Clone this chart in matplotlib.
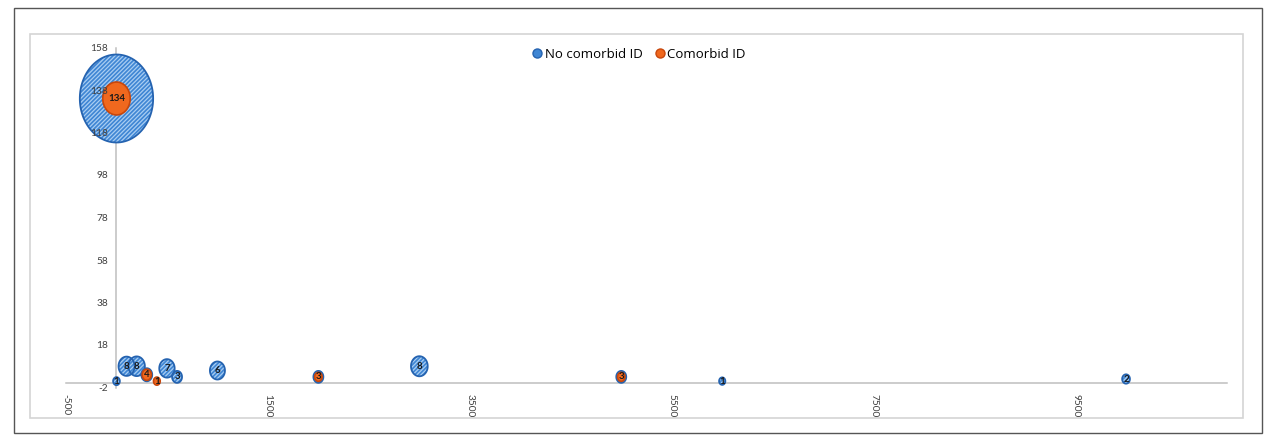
import numpy as np
import matplotlib
matplotlib.use("Agg")
import matplotlib.pyplot as plt
from matplotlib.path import Path
from matplotlib.lines import Line2D
from matplotlib.patches import Rectangle

# ---------------- data ----------------
series_names = ["No comorbid ID", "Comorbid ID"]

no_comorbid_x = [0, 0, 100, 200, 300, 500, 600, 1000, 2000, 3000, 5000, 6000, 10000]
no_comorbid_y = [134, 1, 8, 8, 4, 7, 3, 6, 3, 8, 3, 1, 2]
no_comorbid_size = [250, 2.1, 12, 12.5, 5.5, 11, 4.6, 10.5, 4.6, 13, 4.6, 1.8, 2.8]

comorbid_x = [0, 300, 400, 2000, 5000]
comorbid_y = [134, 4, 1, 3, 3]
comorbid_size = [35, 4.0, 2.1, 2.6, 2.6]

x_ticks = [-500, 1500, 3500, 5500, 7500, 9500]
y_ticks = [-2, 18, 38, 58, 78, 98, 118, 138, 158]

# ---------------- style ----------------
W, H = 1275, 442
fig = plt.figure(figsize=(W / 100, H / 100), dpi=100)
fig.patch.set_facecolor("white")

# chart borders
fig.add_artist(Rectangle((14 / W, 1 - 433 / H), (1262 - 14) / W, (433 - 8) / H,
                         transform=fig.transFigure, fill=False, ec="#555555", lw=1.0))
fig.add_artist(Rectangle((30 / W, 1 - 418 / H), (1243 - 30) / W, (418 - 34) / H,
                         transform=fig.transFigure, fill=False, ec="#d4d4d4", lw=1.2))

ax = fig.add_axes([66 / W, 1 - 387.5 / H, (1227 - 66) / W, (387.5 - 47.5) / H])
ax.set_xlim(-500, 11000)
ax.set_ylim(-2, 158)
ax.patch.set_alpha(0)

for s in ["top", "right"]:
    ax.spines[s].set_visible(False)
ax.spines["left"].set_position(("data", 0))
ax.spines["bottom"].set_position(("data", 0))
for s in ["left", "bottom"]:
    ax.spines[s].set_color("#bfbfbf")
    ax.spines[s].set_linewidth(1.1)
    ax.spines[s].set_zorder(1)

ax.set_xticks(x_ticks)
ax.set_yticks(y_ticks)
ax.set_xticklabels([str(v) for v in x_ticks], rotation=-90, fontsize=7.3,
                   color="#404040", family="Lato")
ax.set_yticklabels([str(v) for v in y_ticks], fontsize=7.3, color="#404040", family="Lato")
ax.tick_params(axis="both", length=0)
ax.tick_params(axis="x", pad=8)
ax.tick_params(axis="y", pad=6)
ax.xaxis.set_zorder(6)
ax.yaxis.set_zorder(6)

# ellipse marker (bubbles appear slightly taller than wide)
t = np.linspace(0, 2 * np.pi, 100)
ellipse = Path(np.column_stack([np.cos(t), 1.2 * np.sin(t)]), closed=True)

max_size = max(no_comorbid_size + comorbid_size)
max_h_px = 88


def s_from(size):
    d_px = max_h_px * np.sqrt(np.asarray(size) / max_size)
    return (0.72 * d_px) ** 2


plt.rcParams["hatch.linewidth"] = 0.9

# blue series
ax.scatter(no_comorbid_x, no_comorbid_y, s=s_from(no_comorbid_size), marker=ellipse,
           facecolor="#3f86d4", edgecolor="#a9cdf2", hatch="////////", linewidths=0,
           zorder=2, clip_on=False)
ax.scatter(no_comorbid_x, no_comorbid_y, s=s_from(no_comorbid_size), marker=ellipse,
           facecolor="none", edgecolor="#2563b0", linewidths=1.3, zorder=2.1, clip_on=False)
for x, y in zip(no_comorbid_x, no_comorbid_y):
    ax.text(x, y, str(y), ha="center", va="center", fontsize=7, color="#1a1a1a",
            family="Lato", fontweight="bold", zorder=3)

# orange series
ax.scatter(comorbid_x, comorbid_y, s=s_from(comorbid_size), marker=ellipse,
           facecolor="#f0681e", edgecolor="#c8470c", linewidths=1.2, zorder=4, clip_on=False)
for x, y in zip(comorbid_x, comorbid_y):
    ax.text(x, y, str(y), ha="center", va="center", fontsize=7, color="#1a1a1a",
            family="Lato", fontweight="bold", zorder=5)

# legend
handles = [
    Line2D([], [], ls="none", marker="o", markersize=6.5, markerfacecolor="#3f86d4",
           markeredgecolor="#2563b0"),
    Line2D([], [], ls="none", marker="o", markersize=6.5, markerfacecolor="#f0681e",
           markeredgecolor="#c8470c"),
]
fig.legend(handles, series_names, loc="center", bbox_to_anchor=(638 / W, 1 - 54 / H),
           ncol=2, frameon=False, prop={"family": "Open Sans", "size": 9.5},
           handletextpad=0.1, columnspacing=0.8, handlelength=1.0)

fig.savefig("out.png", dpi=100, facecolor="white")
